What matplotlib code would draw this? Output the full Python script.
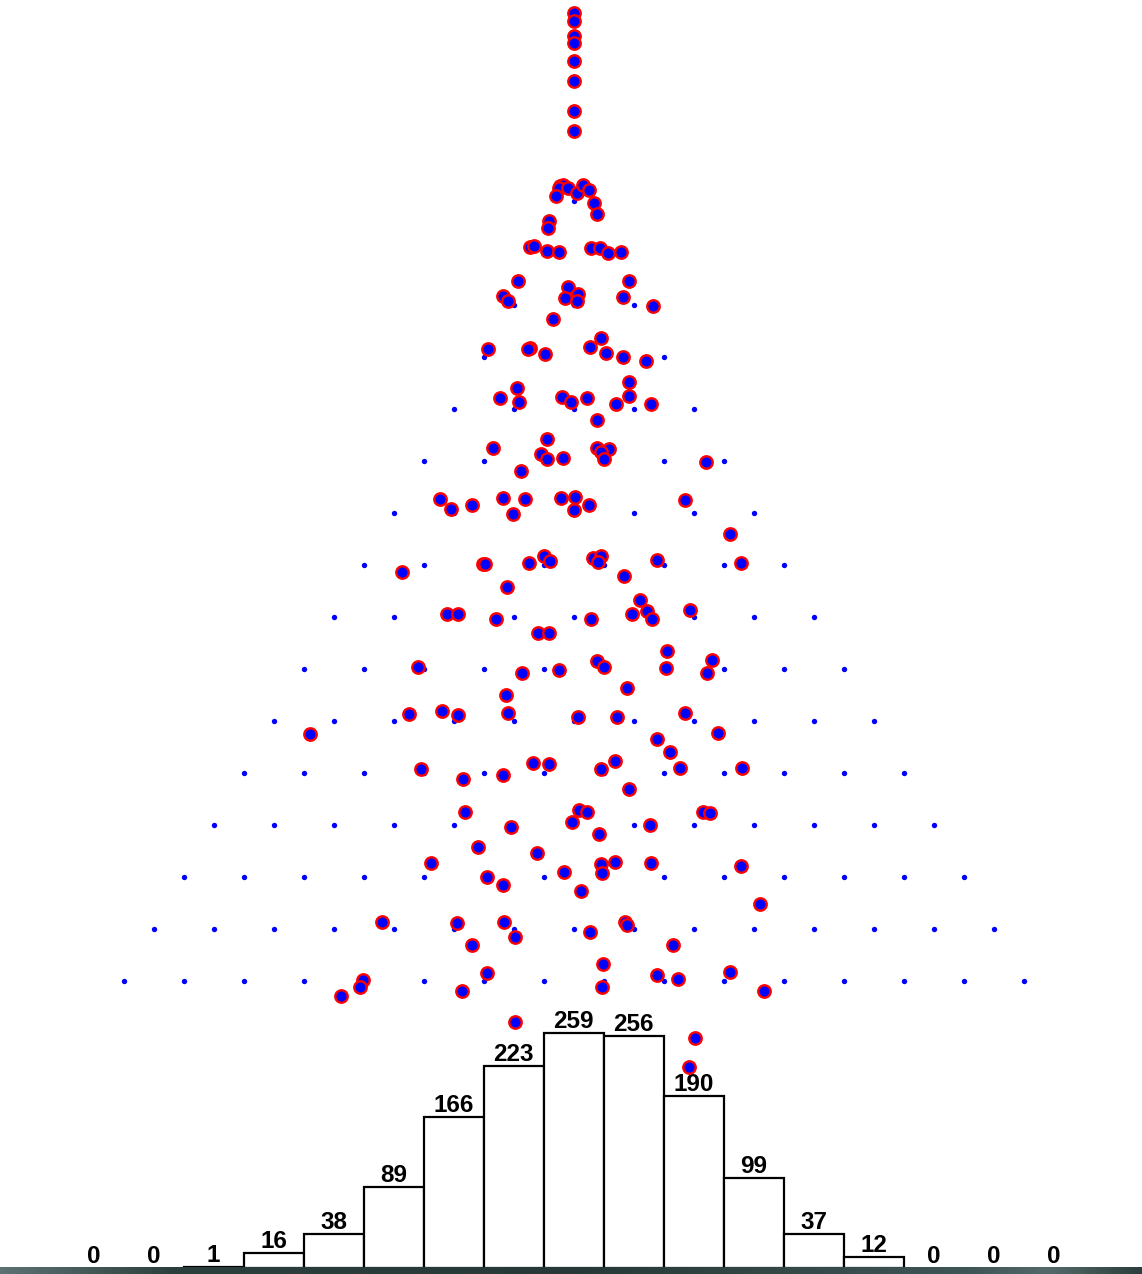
import numpy as np
import matplotlib
matplotlib.use("Agg")
import matplotlib.pyplot as plt
from matplotlib.colors import LinearSegmentedColormap

# ---------------- data ----------------
# histogram of balls collected in each of the 17 bins (left -> right)
bin_counts = [0, 0, 1, 16, 38, 89, 166, 223, 259, 256, 190, 99, 37, 12, 0, 0, 0]
bin_labels = [str(c) for c in bin_counts]

# board geometry (pixel-like board coordinates)
n_rows = 16
board_center_x = 574
peg_spacing = 60
row_spacing = 52
top_row_y = 200.5

# balls currently in flight / waiting (board coordinates)
ball_x = [574, 574, 574, 574, 574, 574, 574, 574,
          560, 563, 559, 568, 556, 577, 583, 589, 594, 597, 549, 548,
          530, 534, 547, 559, 591, 600, 608, 621,
          518, 629, 503, 508, 568, 578, 565, 577, 623, 653, 553,
          601, 590, 606, 623, 646, 488, 530, 528, 545,
          517, 500, 519, 562, 571, 587, 616, 629, 629, 651, 597,
          493, 547, 541, 547, 563, 597, 609, 601, 604, 706, 521,
          440, 451, 472, 503, 525, 513, 561, 575, 574, 589, 685, 730,
          402, 483, 485, 529, 544, 550, 593, 601, 598, 657, 741, 624, 507,
          447, 458, 496, 591, 632, 640, 647, 652, 690, 538, 549,
          667, 712, 666, 707, 418, 522, 559, 597, 604, 506, 627,
          409, 442, 458, 508, 578, 617, 685, 310, 718, 657, 670,
          421, 463, 503, 533, 549, 601, 615, 680, 742, 629,
          465, 579, 587, 572, 703, 710, 511, 650, 599,
          478, 537, 431, 564, 601, 602, 615, 651, 741, 487, 503, 581, 760,
          382, 457, 504, 515, 472, 590, 625, 627, 673,
          603, 363, 360, 341, 462, 487, 602, 657, 678, 730, 764,
          515, 695, 689]
ball_y = [13, 21, 36, 43, 61, 81, 111, 131,
          186, 185, 188, 188, 196, 193, 185, 190, 203, 214, 221, 228,
          247, 246, 251, 252, 248, 248, 253, 252,
          281, 281, 296, 301, 287, 294, 298, 301, 297, 306, 319,
          338, 347, 353, 357, 361, 349, 348, 349, 354,
          388, 398, 402, 397, 402, 398, 404, 382, 396, 404, 420,
          448, 439, 454, 459, 458, 448, 449, 452, 459, 462, 471,
          499, 509, 505, 498, 499, 514, 498, 497, 510, 505, 500, 534,
          572, 564, 564, 563, 556, 561, 558, 556, 562, 560, 563, 576, 587,
          614, 614, 619, 619, 614, 600, 611, 619, 610, 633, 633,
          651, 660, 668, 673, 667, 673, 670, 661, 667, 695, 688,
          714, 711, 715, 713, 717, 717, 713, 734, 733, 739, 752,
          769, 779, 775, 763, 764, 769, 761, 768, 768, 789,
          812, 810, 812, 822, 812, 813, 827, 825, 834,
          847, 853, 863, 872, 864, 873, 862, 863, 866, 877, 885, 891, 904,
          922, 923, 922, 937, 945, 932, 922, 925, 945,
          964, 980, 987, 996, 991, 973, 987, 975, 979, 972, 991,
          1022, 1038, 1067]

# ---------------- figure ----------------
W, H = 1142, 1274
fig = plt.figure(figsize=(W / 100, H / 100), dpi=100)
fig.patch.set_facecolor("white")

ground_top = 1267
bar_base = 1268
px_per_count = 0.907

# histogram axes: bottom edge at the bin floor
hist_ax = fig.add_axes([0, (H - bar_base) / H, 1, bar_base / H])
hist_ax.set_xlim(0, W)
hist_ax.set_ylim(0, bar_base / px_per_count)
hist_ax.axis("off")

n_bins = len(bin_counts)
bin_centers = [board_center_x + (k - (n_bins - 1) / 2) * peg_spacing for k in range(n_bins)]
nz = [k for k, c in enumerate(bin_counts) if c > 0]
hist_ax.bar([bin_centers[k] for k in nz], [bin_counts[k] for k in nz],
            width=peg_spacing, facecolor="white", edgecolor="black",
            linewidth=1.6, zorder=2)
label_gap = 5 / px_per_count
for xc, c, lab in zip(bin_centers, bin_counts, bin_labels):
    hist_ax.text(xc - 0.5, c + label_gap, lab, ha="center", va="baseline",
                 fontsize=17.5, fontweight="bold", family="Liberation Sans",
                 color="black", zorder=3)

# board axes (pegs + balls)
ax = fig.add_axes([0, 0, 1, 1])
ax.set_xlim(0, W)
ax.set_ylim(H, 0)
ax.axis("off")
ax.patch.set_alpha(0)

peg_x, peg_y = [], []
for r in range(n_rows):
    for i in range(r + 1):
        peg_x.append(board_center_x + (i - r / 2) * peg_spacing)
        peg_y.append(top_row_y + r * row_spacing)
ax.scatter(peg_x, peg_y, s=15, color="#0000ff", linewidths=0, zorder=2)

ax.scatter(ball_x, ball_y, s=80, facecolor="#0000ff", edgecolor="#ff0000",
           linewidths=1.7, zorder=3)

# ground strip
gax = fig.add_axes([0, 0, 1, (H - ground_top) / H])
gax.axis("off")
cmap = LinearSegmentedColormap.from_list(
    "ground", [(0.0, "#5c7272"), (0.15, "#2c3f3f"), (0.5, "#263838"),
               (0.85, "#3f5656"), (0.92, "#546a6a"), (1.0, "#2c3e3e")])
gax.imshow(np.linspace(0, 1, 256)[None, :], aspect="auto", cmap=cmap,
           extent=(0, 1, 0, 1))
gax.set_xlim(0, 1)
gax.set_ylim(0, 1)

fig.savefig("out.png", dpi=100, facecolor="white")
